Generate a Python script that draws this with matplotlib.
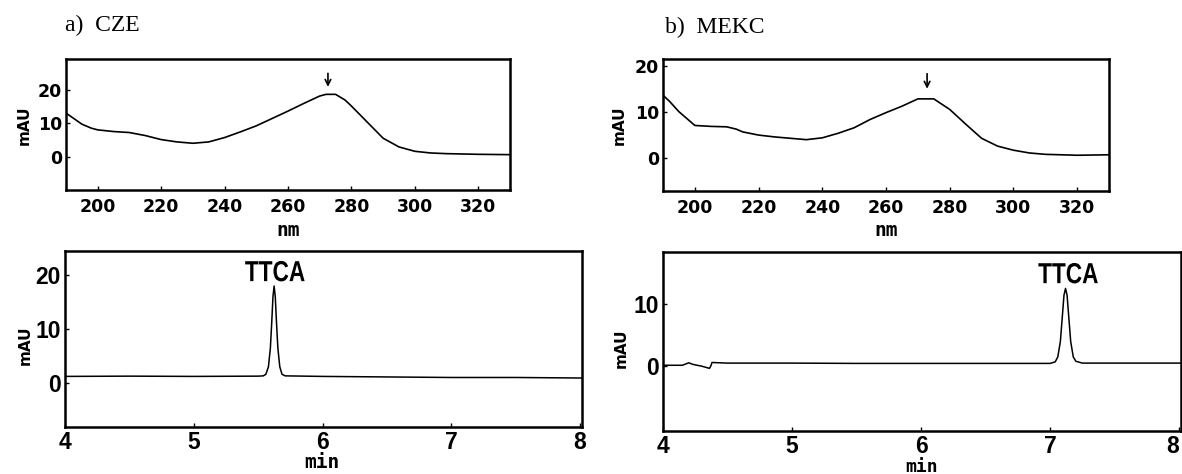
import matplotlib
matplotlib.use("Agg")
import matplotlib.pyplot as plt
import matplotlib.transforms as mtransforms
from matplotlib.textpath import TextPath
from matplotlib.patches import PathPatch
from matplotlib.font_manager import FontProperties

W, H = 1182, 474

# UV spectra (nm, mAU)
cze_nm = [190, 192, 195, 198, 200, 205, 210, 215, 220, 225, 230, 235, 240, 245,
          250, 255, 260, 265, 270, 272, 275, 278, 280, 285, 290, 295, 300, 305,
          310, 320, 330]
cze_mau = [13.1, 11.8, 9.8, 8.6, 8.1, 7.6, 7.3, 6.4, 5.2, 4.5, 4.1, 4.5, 5.8, 7.5,
           9.3, 11.5, 13.7, 16.0, 18.2, 18.7, 18.7, 17.0, 15.2, 10.4, 5.6, 3.0, 1.7, 1.2,
           1.0, 0.8, 0.7]

mekc_nm = [190, 192, 195, 198, 200, 205, 210, 213, 215, 220, 225, 230, 235, 240,
           245, 250, 255, 260, 265, 270, 275, 280, 285, 290, 295, 300, 305, 310,
           320, 330]
mekc_mau = [13.6, 12.3, 10.0, 8.2, 7.0, 6.8, 6.7, 6.2, 5.6, 4.9, 4.5, 4.2, 3.9, 4.3,
            5.3, 6.5, 8.3, 9.8, 11.2, 12.8, 12.8, 10.5, 7.3, 4.2, 2.5, 1.6, 1.0, 0.7,
            0.5, 0.6]

# electropherograms (min, mAU)
cze_t = [4.0, 4.5, 5.0, 5.5, 5.54, 5.56, 5.58, 5.595, 5.605, 5.615, 5.624, 5.633,
         5.643, 5.653, 5.668, 5.685, 5.71, 6.0, 6.5, 7.0, 7.5, 8.015]
cze_sig = [1.2, 1.25, 1.2, 1.25, 1.3, 1.6, 3.0, 6.5, 11.0, 16.0, 18.0, 16.0,
           11.0, 6.5, 3.0, 1.6, 1.3, 1.2, 1.1, 1.0, 1.0, 0.9]

mekc_t = [4.0, 4.15, 4.2, 4.23, 4.3, 4.36, 4.37, 4.38, 4.5, 5.0, 5.5, 6.0, 6.5,
          7.0, 7.04, 7.06, 7.08, 7.095, 7.108, 7.12, 7.132, 7.145, 7.16, 7.18,
          7.2, 7.25, 7.5, 8.015]
mekc_sig = [0.15, 0.15, 0.55, 0.3, 0.0, -0.35, 0.0, 0.6, 0.5, 0.5, 0.45, 0.45, 0.45,
            0.45, 0.7, 1.5, 4.0, 8.0, 11.5, 12.6, 11.5, 8.0, 4.0, 1.5,
            0.8, 0.5, 0.5, 0.5]

SANS = ["Liberation Sans", "DejaVu Sans"]


def px_axes(fig, left, top, right, bottom):
    return fig.add_axes([left / W, 1 - bottom / H, (right - left) / W, (bottom - top) / H])


def style(ax, tick_font, tick_size):
    for s in ax.spines.values():
        s.set_linewidth(1.8)
    ax.tick_params(direction="in", length=3, width=1, pad=3)
    for lab in ax.get_xticklabels() + ax.get_yticklabels():
        lab.set_fontfamily(tick_font)
        lab.set_fontsize(tick_size)
        lab.set_fontweight("bold")


def narrow_label(ax, x, y, s, size_px, squeeze):
    # condensed bold label, centred on x with its baseline at y
    tp = TextPath((0, 0), s, size=size_px,
                  prop=FontProperties(family="Liberation Sans", weight="bold"))
    bb = tp.get_extents()
    tr = (mtransforms.Affine2D().translate(-(bb.x0 + bb.x1) / 2, 0).scale(squeeze, 1)
          + mtransforms.ScaledTranslation(x, y, ax.transData))
    ax.add_patch(PathPatch(tp, transform=tr, facecolor="black", edgecolor="none",
                           clip_on=False))


fig = plt.figure(figsize=(W / 100, H / 100), dpi=100)

# a) CZE spectrum
ax1 = px_axes(fig, 66, 59, 510, 190)
ax1.plot(cze_nm, cze_mau, color="black", lw=1.2)
ax1.set_xlim(190, 330)
ax1.set_ylim(-9.85, 29.25)
ax1.set_xticks([200, 220, 240, 260, 280, 300, 320])
ax1.set_yticks([0, 10, 20])
style(ax1, "DejaVu Sans", 12.5)
ax1.tick_params(axis="x", pad=6)
ax1.annotate("", xy=(272.6, 20.1), xytext=(272.6, 25.8),
             arrowprops=dict(arrowstyle="->", color="black", lw=1.2))

# b) MEKC spectrum
ax2 = px_axes(fig, 663, 59, 1109, 191)
ax2.plot(mekc_nm, mekc_mau, color="black", lw=1.2)
ax2.set_xlim(190, 330)
ax2.set_ylim(-7.3, 21.5)
ax2.set_xticks([200, 220, 240, 260, 280, 300, 320])
ax2.set_yticks([0, 10, 20])
style(ax2, "DejaVu Sans", 12.5)
ax2.tick_params(axis="x", pad=6)
ax2.annotate("", xy=(272.9, 14.4), xytext=(272.9, 18.9),
             arrowprops=dict(arrowstyle="->", color="black", lw=1.2))

# a) CZE electropherogram
ax3 = px_axes(fig, 65, 251, 582, 427)
ax3.plot(cze_t, cze_sig, color="black", lw=1.1)
ax3.set_xlim(4, 8.015)
ax3.set_ylim(-8.2, 24.5)
ax3.set_xticks([4, 5, 6, 7, 8])
ax3.set_yticks([0, 10, 20])
style(ax3, SANS, 16.5)
narrow_label(ax3, 5.63, 18.9, "TTCA", 29, 0.78)

# b) MEKC electropherogram
ax4 = px_axes(fig, 663, 252, 1181, 431)
ax4.plot(mekc_t, mekc_sig, color="black", lw=1.1)
ax4.set_xlim(4, 8.015)
ax4.set_ylim(-10.5, 18.5)
ax4.set_xticks([4, 5, 6, 7, 8])
ax4.set_yticks([0, 10])
style(ax4, SANS, 16.5)
ax4.get_xticklabels()[-1].set_horizontalalignment("right")
narrow_label(ax4, 7.14, 13.45, "TTCA", 29, 0.78)

# axis labels
for x, y in [(24, 125), (619, 125), (25, 345), (621, 348)]:
    fig.text(x / W, 1 - y / H, "mAU", rotation=90, ha="center", va="center",
             fontsize=11, fontweight="bold", family="DejaVu Sans")
for x, y in [(288, 230), (886, 230)]:
    fig.text(x / W, 1 - y / H, "nm", ha="center", va="center",
             fontsize=14, fontweight="bold", family="DejaVu Sans Mono")
fig.text(322 / W, 1 - 463 / H, "min", ha="center", va="center",
         fontsize=14, fontweight="bold", family="DejaVu Sans Mono")
fig.text(922 / W, 1 - 467 / H, "min", ha="center", va="center",
         fontsize=13, fontweight="bold", family="DejaVu Sans Mono")

# panel titles
fig.text(65 / W, 1 - 25 / H, "a)  CZE", ha="left", va="center",
         fontsize=17, family="Liberation Serif")
fig.text(665 / W, 1 - 27 / H, "b)  MEKC", ha="left", va="center",
         fontsize=17, family="Liberation Serif")

fig.savefig("out.png", dpi=100)
